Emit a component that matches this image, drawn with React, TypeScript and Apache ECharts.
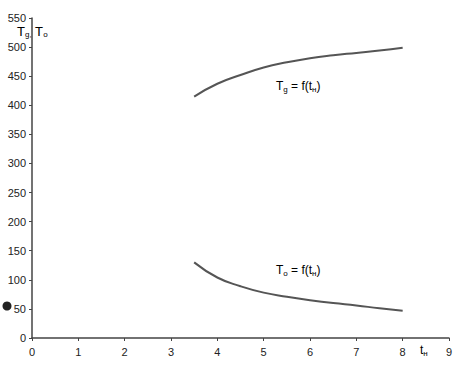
import React, { useEffect, useRef } from "react";
import * as echarts from "echarts";

const tValues = [3.5, 4, 4.5, 5, 5.5, 6, 6.5, 7, 7.5, 8];
const tgValues = [415, 437, 452, 465, 474, 481, 486, 490, 494, 499];
const toValues = [130, 104, 89, 78, 71, 65, 60, 56, 51, 47];
const yTicks = [0, 50, 100, 150, 200, 250, 300, 350, 400, 450, 500, 550];
const xTicks = [0, 1, 2, 3, 4, 5, 6, 7, 8, 9];

const FONT = "Liberation Sans";

export default function App() {
  const ref = useRef<HTMLDivElement>(null);
  useEffect(() => {
    if (!ref.current) return;
    const chart = echarts.init(ref.current, null, { renderer: "svg" });
    const lineColor = "#555";
    const sub = { fontSize: 8, fontFamily: FONT, color: "#333", verticalAlign: "bottom", padding: [6, 0, 0, 0] };
    chart.setOption({
      animation: false,
      backgroundColor: "#fff",
      grid: { left: 32, right: 9, top: 18, bottom: 31, containLabel: false },
      xAxis: {
        type: "value",
        min: xTicks[0],
        max: xTicks[xTicks.length - 1],
        interval: 1,
        axisLine: { lineStyle: { color: "#444", width: 1.5 } },
        axisTick: { show: true, length: 3, lineStyle: { color: "#444" } },
        splitLine: { show: false },
        axisLabel: { fontFamily: FONT, fontSize: 11, color: "#222", margin: 8 },
      },
      yAxis: {
        type: "value",
        min: yTicks[0],
        max: yTicks[yTicks.length - 1],
        interval: 50,
        axisLine: { show: true, lineStyle: { color: "#444", width: 1.5 } },
        axisTick: { show: true, length: 3, lineStyle: { color: "#444" } },
        splitLine: { show: false },
        axisLabel: { fontFamily: FONT, fontSize: 11, color: "#222", margin: 6 },
      },
      series: [
        {
          type: "line",
          name: "Tg",
          data: tValues.map((t, i) => [t, tgValues[i]]),
          smooth: true,
          symbol: "none",
          lineStyle: { color: lineColor, width: 2 },
        },
        {
          type: "line",
          name: "To",
          data: tValues.map((t, i) => [t, toValues[i]]),
          smooth: true,
          symbol: "none",
          lineStyle: { color: lineColor, width: 2 },
        },
      ],
      graphic: [
        {
          type: "text",
          left: 17,
          top: 25,
          style: {
            text: "{m|T}{s|g,}{m| T}{s|o}",
            rich: {
              m: { fontSize: 13, fontFamily: FONT, color: "#222" },
              s: sub,
            },
          },
        },
        {
          type: "text",
          left: 276,
          top: 80,
          style: {
            text: "{m|T}{s|g}{m| = f(t}{s|н}{m|)}",
            rich: {
              m: { fontSize: 12, fontFamily: FONT, color: "#444" },
              s: sub,
            },
          },
        },
        {
          type: "text",
          left: 276,
          top: 264,
          style: {
            text: "{m|T}{s|o}{m| = f(t}{s|н}{m|)}",
            rich: {
              m: { fontSize: 12, fontFamily: FONT, color: "#444" },
              s: sub,
            },
          },
        },
        {
          type: "text",
          left: 420,
          top: 344,
          style: {
            text: "{m|t}{s|н}",
            rich: {
              m: { fontSize: 12, fontFamily: FONT, color: "#444" },
              s: sub,
            },
          },
        },
        {
          type: "circle",
          shape: { cx: 7, cy: 306, r: 4.5 },
          style: { fill: "#222" },
        },
      ],
    });
    return () => chart.dispose();
  }, []);
  return <div ref={ref} style={{ width: 458, height: 369, position: "absolute", left: 0, top: 0 }} />;
}
